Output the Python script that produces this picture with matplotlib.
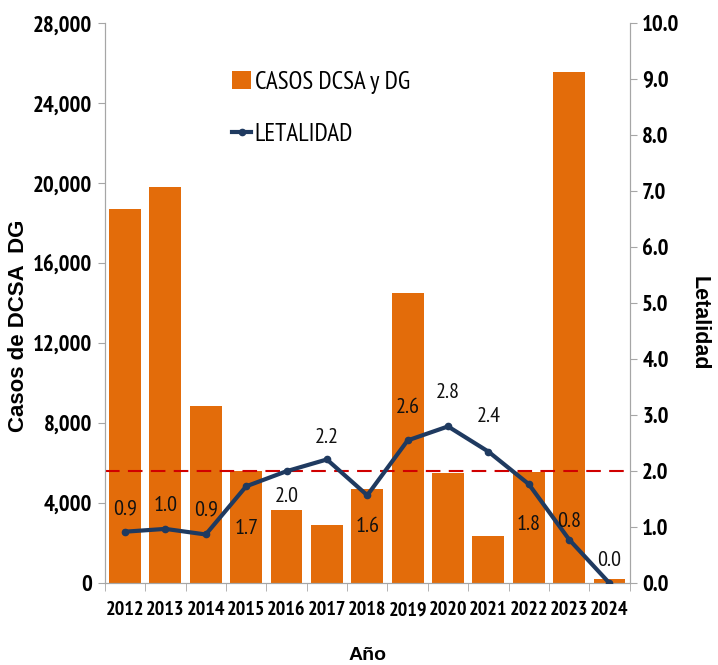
import matplotlib
matplotlib.use("Agg")
import matplotlib.pyplot as plt
import numpy as np
from matplotlib.ticker import FuncFormatter, FixedLocator

# datos
anios = ["2012", "2013", "2014", "2015", "2016", "2017", "2018",
         "2019", "2020", "2021", "2022", "2023", "2024"]
casos = [18700, 19800, 8850, 5600, 3650, 2900, 4700,
         14500, 5500, 2350, 5550, 25550, 200]
letalidad = [0.92, 0.97, 0.87, 1.73, 2.0, 2.21, 1.57,
             2.55, 2.8, 2.35, 1.77, 0.78, 0.0]
etiquetas = ["0.9", "1.0", "0.9", "1.7", "2.0", "2.2", "1.6",
             "2.6", "2.8", "2.4", "1.8", "0.8", "0.0"]
umbral = 2.0

# desplazamiento vertical de cada etiqueta (pixeles)
despl = [23, 23, 25, -42, -25, 22, -31, 33, 34, 35, -40, 18, 23]

naranja = "#E36C0A"
azul = "#1F3A60"
gris = "#A6A6A6"
estrecha = ["PT Sans Narrow", "DejaVu Sans"]
arial = ["Liberation Sans", "DejaVu Sans"]

fig = plt.figure(figsize=(7.18, 6.65), dpi=100)
ax = fig.add_axes([0.146, 0.123, 0.731, 0.842])
ax2 = ax.twinx()

x = np.arange(len(anios))
barras = ax.bar(x, casos, width=0.79, color=naranja, label="CASOS DCSA y DG", zorder=2)
ax.set_xlim(-0.5, len(anios) - 0.5)
ax.set_ylim(0, 28000)
ax.set_yticks(np.arange(0, 28001, 4000))
ax.yaxis.set_major_formatter(FuncFormatter(lambda v, p: f"{int(v):,}"))

ax.set_xticks(x)
ax.set_xticklabels(anios)
ax.xaxis.set_minor_locator(FixedLocator(np.arange(-0.5, len(anios), 1)))
ax.tick_params(axis="x", which="major", length=0, pad=13)
ax.tick_params(axis="x", which="minor", length=6, color=gris)
ax.tick_params(axis="y", length=5, color=gris, pad=4)
for lab in ax.get_xticklabels():
    lab.set_family(estrecha)
    lab.set_fontweight("bold")
    lab.set_fontsize(14.5)
for lab in ax.get_yticklabels():
    lab.set_family(estrecha)
    lab.set_fontweight("bold")
    lab.set_fontsize(16.5)

linea, = ax2.plot(x, letalidad, color=azul, lw=3.0, marker="o", ms=4.5, label="LETALIDAD", zorder=3)
ax2.axhline(umbral, color="#D00000", lw=1.5, ls=(0, (7, 4)), zorder=1)
ax2.set_ylim(0, 10)
ax2.set_yticks(np.arange(0, 10.01, 1))
ax2.yaxis.set_major_formatter(FuncFormatter(lambda v, p: f"{v:.1f}"))
ax2.tick_params(axis="y", length=5, color=gris, pad=4)
for lab in ax2.get_yticklabels():
    lab.set_family(estrecha)
    lab.set_fontweight("bold")
    lab.set_fontsize(16.5)

for xi, v, t, d in zip(x, letalidad, etiquetas, despl):
    ax2.annotate(t, (xi, v), xytext=(0, d), textcoords="offset pixels",
                 ha="center", va="center",
                 fontsize=16, family=estrecha, color="#111111")

for a in (ax, ax2):
    a.spines["top"].set_visible(False)
    a.spines["left"].set_color(gris)
    a.spines["right"].set_color(gris)
    a.spines["bottom"].set_color(gris)

ax.set_ylabel("Casos de DCSA  DG", fontsize=16, fontweight="bold", family=arial, labelpad=3)
ax.yaxis.label.set_y(0.46)
ax2.set_ylabel("Letalidad", fontsize=15.5, fontweight="bold", family=arial,
               rotation=270, labelpad=22)
ax2.yaxis.label.set_y(0.465)
ax.set_xlabel("Año", fontsize=14, fontweight="bold", family=arial, labelpad=20)

leg = ax.legend([barras, linea], ["CASOS DCSA y DG", "LETALIDAD"],
                loc="upper left", bbox_to_anchor=(0.2, 0.955), frameon=False,
                prop={"family": estrecha, "size": 18}, labelspacing=1.15,
                handlelength=0.75, handleheight=0.75, handletextpad=0.15)

fig.savefig("out.png", dpi=100)
